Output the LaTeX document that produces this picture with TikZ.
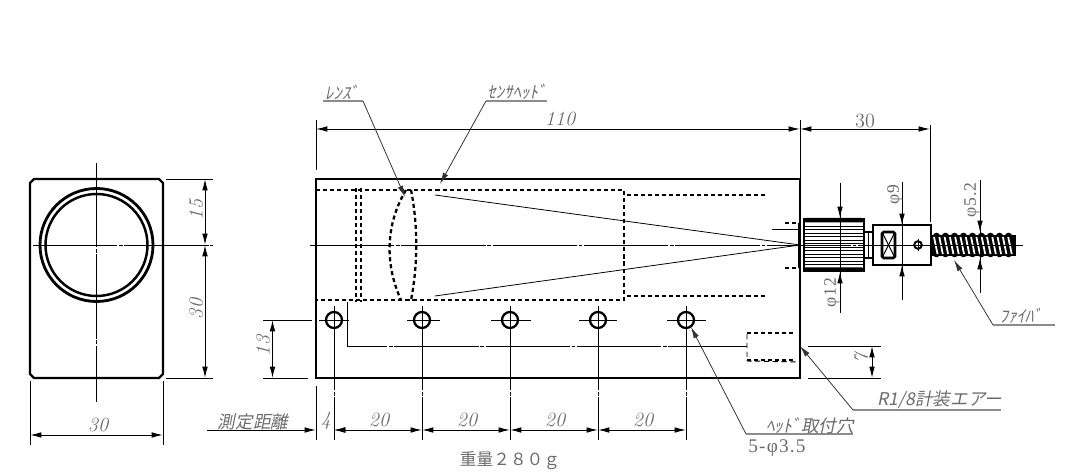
\documentclass[tikz,border=0pt]{standalone}
\usepackage{fontspec}
\usepackage{xcolor}
\usepackage{tikz}
\usetikzlibrary{arrows.meta, calc}
\newfontfamily\jpslant[FakeSlant=0.2]{Noto Sans CJK JP}
\newfontfamily\jpplain{Noto Sans CJK JP}
\newfontfamily\dimserif[LetterSpace=6]{Liberation Serif}
\definecolor{labelgray}{gray}{0.42}
\definecolor{leadergray}{gray}{0.55}

\begin{document}
\begin{tikzpicture}[
        x=0.02cm, y=-0.02cm,
        outline/.style={line width=1.35pt, black},
        thin line/.style={line width=0.55pt, black},
        centerline/.style={thin line, dash pattern=on 48pt off 1pt on 2pt off 1pt},
        hidden/.style={line width=1.7pt, black, dash pattern=on 2.3pt off 1.7pt},
        dim/.style={thin line, {Latex[length=6.5pt,width=3.2pt]}-{Latex[length=6.5pt,width=3.2pt]}},
        tip/.style={line width=0.45pt, black!80, -{Latex[length=6.5pt,width=3.2pt]}},
        leader/.style={line width=0.8pt, leadergray},
        num/.style={font=\fontsize{11.5}{13}\selectfont\itshape, text=labelgray, inner sep=0pt},
        upnum/.style={font=\fontsize{10}{12}\dimserif, text=labelgray, inner sep=0pt},
        jp/.style={font=\fontsize{9.6}{12}\jpslant, text=labelgray, inner sep=0pt}
    ]
        \useasboundingbox (0,0) rectangle (1069,472);

        % Front view
        \draw[outline] (34,179) -- (159,179) -- (163,183) -- (163,374) -- (159,378)
            -- (34,378) -- (30,374) -- (30,183) -- cycle;
        \draw[line width=1.6pt] (96.5,245) circle[radius=56.5];
        \draw[line width=1.4pt] (96.5,245) circle[radius=51];
        \draw[centerline] (96.5,163) -- (96.5,402);
        \draw[centerline] (33,245) -- (213,245);

        % Front view dimensions
        \draw[thin line] (166,179) -- (213,179);
        \draw[thin line] (166,378) -- (213,378);
        \draw[dim] (205,179) -- (205,245);
        \draw[dim] (205,245) -- (205,378);
        \node[num, rotate=90] (dimA) at (196,210) {15};
        \node[num, rotate=90] (dimB) at (196,309) {30};
        \draw[thin line] (30,381) -- (30,445);
        \draw[thin line] (163,381) -- (163,445);
        \draw[dim] (30,435) -- (163,435);
        \node[num] (dimC) at (98,425) {30};

        % Sensor head body
        \draw[outline] (316,179) rectangle (800,378);
        \draw[centerline] (310,245) -- (1023,245);

        % Hidden lines
        \draw[hidden] (316,190) -- (624,190) -- (624,300) -- (316,300);
        \draw[hidden] (627,195) -- (765,195);
        \draw[hidden] (627,296) -- (765,296);
        \draw[hidden] (356,188) -- (356,302);
        \draw[hidden] (361,188) -- (361,302);
        \draw[hidden] (785,223) -- (797,223);
        \draw[hidden] (785,268) -- (797,268);
        \draw[hidden] (747,333) -- (796,333);
        \draw[hidden] (747,360) -- (796,360);
        \draw[thin line, densely dashed] (747,334) -- (747,361) -- (800,362);

        % Lens
        \draw[hidden, line width=1.3pt] (406,190) .. controls (385,225) and (385,265) .. (401,300);
        \draw[hidden, line width=1.3pt] (411,190) .. controls (418,225) and (418,265) .. (411,300);

        % Beam
        \draw[line width=0.45pt] (435,195) -- (800,245);
        \draw[line width=0.45pt] (435,296) -- (800,245);
        \draw[thin line] (772,229) -- (798,229);

        % Air line
        \draw[centerline] (347,302) -- (347,346) -- (747,346);

        % Mounting holes
        \foreach \hx/\hl/\hr in {334/319/349, 422/407/440, 510/491/531, 598/579/617, 686/667/706} {
            \draw[line width=1.3pt] (\hx,320) circle[radius=8];
            \draw[thin line] (\hl,320) -- (\hr,320);
            \draw[centerline] (\hx,306) -- (\hx,440);
        }

        % Body dimensions
        \draw[thin line] (316,120) -- (316,170);
        \draw[thin line] (800,120) -- (800,180);
        \draw[thin line] (930,125) -- (930,222);
        \draw[dim] (316,129) -- (800,129);
        \draw[dim] (800,129) -- (930,129);
        \node[num] (dimD) at (560,119) {110};
        \node[font=\fontsize{11.5}{13}\selectfont, text=labelgray, inner sep=0pt] (dimE) at (865,121) {30};

        \draw[thin line] (263,320) -- (312,320);
        \draw[thin line] (263,378) -- (308,378);
        \draw[dim] (272.5,320) -- (272.5,378);
        \node[num, rotate=90] (dimF) at (263,346) {13};

        \draw[thin line] (808,346) -- (881,346);
        \draw[thin line] (808,378) -- (881,378);
        \draw[dim] (872,346) -- (872,378);
        \node[num, rotate=90] (dimG) at (861,358) {7};

        % Pitch row
        \draw[thin line] (316,386) -- (316,440);
        \draw[tip, thin line] (207,430) -- (316,430);
        \draw[tip, thin line] (346,430) -- (334,430);
        \foreach \ax/\bx in {334/422, 422/510, 510/598, 598/686}
            \draw[dim] (\ax,430) -- (\bx,430);
        \node[num] (pitchA) at (326,421) {4};
        \foreach \lx in {379, 467, 555, 643}
            \node[num] (pitch\lx) at (\lx,420) {20};
        \node[jp, font=\fontsize{10}{12}\jpslant] (measure) at (253,422) {測定距離};

        % Knurled nut
        \draw[line width=1.3pt] (799,223) -- (799,268);
        \fill[rounded corners=1.5pt] (803,218) rectangle (864.5,222.5);
        \fill[rounded corners=1.5pt] (803,267.5) rectangle (864.5,272);
        \foreach \ky in {226,229.5,...,266}
            \draw[line width=0.45pt] (804,\ky) -- (864,\ky);
        \draw[outline, line width=0.9pt] (804,218) -- (804,272);
        \draw[outline, line width=0.7pt] (864,218) -- (864,272);
        \draw[outline] (864,232) -- (873,232);
        \draw[outline] (864,258) -- (873,258);
        \draw[thin line] (868,232) -- (868,258);

        % Connector block
        \draw[outline] (873,225) rectangle (931,265);
        \draw[outline, line width=1.5pt, rounded corners=1pt] (882,232) rectangle (895,258);
        \draw[thin line] (882,232) -- (895,258);
        \draw[thin line] (895,232) -- (882,258);
        \draw[line width=1.1pt] (918,245) circle[radius=3.8];
        \draw[thin line] (918,239) -- (918,251);

        % Fibre
        \fill (932,235) rectangle (1016,256);
        \foreach \sx in {932,941,...,1010} {
            \fill (\sx+4.5,236.5) circle[radius=3.8];
            \fill (\sx+4.5,253.5) circle[radius=3.8];
        }
        \foreach \sx in {934,939.3,...,1012}
            \draw[white, line width=1pt] (\sx,237) -- (\sx+3.5,254);
        \draw[black, line width=0.55pt] (932,245) -- (1023,245);

        % Connector dimensions
        \draw[thin line] (840,183) -- (840,313);
        \draw[tip, thin line] (840,206) -- (840,218);
        \draw[tip, thin line] (840,284) -- (840,272);
        \node[upnum, rotate=90] (dimH) at (832,293) {φ12};
        \draw[thin line] (902,182) -- (902,300);
        \draw[tip, thin line] (902,213) -- (902,225);
        \draw[tip, thin line] (902,277) -- (902,265);
        \node[upnum, rotate=90] (dimI) at (895,195) {φ9};
        \draw[thin line] (980,180) -- (980,293);
        \draw[tip, thin line] (980,220) -- (980,232);
        \draw[tip, thin line] (980,270) -- (980,258);
        \node[upnum, rotate=90] (dimJ) at (972,200) {φ5.2};

        % Leaders
        \coordinate (lensEnd) at (405,197);
        \coordinate (headEnd) at (440,184);
        \coordinate (fibreEnd) at (954,260);
        \coordinate (holeEnd) at (691,327);
        \coordinate (airEnd) at (800,346);
        \draw[leader] (323,101) -- (363,101);
        \draw[tip] (363,101) -- (lensEnd);
        \node[jp] (lensLabel) at (342,92) {ﾚﾝｽﾞ};
        \draw[leader] (486,101) -- (547,101);
        \draw[tip] (486,101) -- (headEnd);
        \node[jp] (headLabel) at (517,92) {ｾﾝｻﾍｯﾄﾞ};
        \draw[leader] (993,325) -- (1055,325);
        \draw[tip] (993,325) -- (fibreEnd);
        \node[jp] (fibreLabel) at (1021,316) {ﾌｧｲﾊﾞ};
        \draw[leader] (746,434) -- (853,434);
        \draw[tip] (746,434) -- (holeEnd);
        \node[jp, font=\fontsize{10}{12}\jpslant] (holeLabel) at (810,426) {ﾍｯﾄﾞ取付穴};
        \draw[leader] (853,410) -- (1001,410);
        \draw[tip] (853,410) -- (airEnd);
        \node[jp, font=\fontsize{10}{12}\jpslant] (airLabel) at (940,400) {R1/8計装エアー};

        % Notes
        \node[upnum, font=\fontsize{11}{12}\dimserif] (holeNote) at (777,448) {5-φ3.5};
        \node[font=\fontsize{9.5}{12}\jpplain, text=labelgray, inner sep=0pt] (weight) at (510,461) {重量２８０ｇ};
    \end{tikzpicture}
\end{document}
